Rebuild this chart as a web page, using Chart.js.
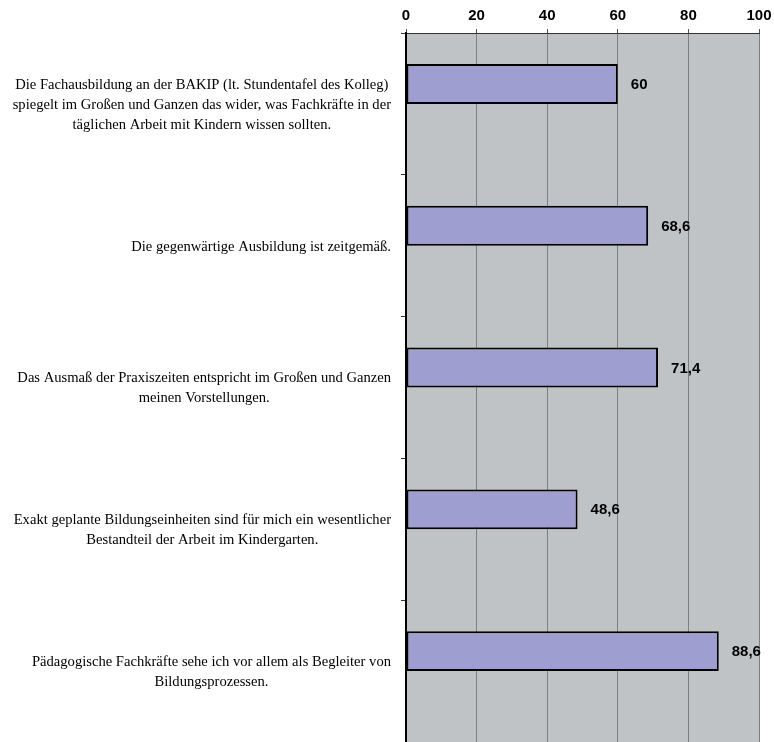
<!DOCTYPE html>
<html lang="de">
<head>
<meta charset="utf-8">
<title>Ausbildung</title>
<script src="https://cdn.jsdelivr.net/npm/chart.js@4.4.1/dist/chart.umd.min.js"></script>
<style>
    body { margin: 0; background: #fff; }
    canvas { display: block; }
</style>
</head>
<body>
<canvas id="myChart" width="774" height="742"></canvas>
<script>
// statements, one array of lines per bar
const statements = [
    ["Die Fachausbildung an der BAKIP (lt. Stundentafel des Kolleg)",
     "spiegelt im Großen und Ganzen das wider, was Fachkräfte in der",
     "täglichen Arbeit mit Kindern wissen sollten."],
    ["Die gegenwärtige Ausbildung ist zeitgemäß."],
    ["Das Ausmaß der Praxiszeiten entspricht im Großen und Ganzen",
     "meinen Vorstellungen."],
    ["Exakt geplante Bildungseinheiten sind für mich ein wesentlicher",
     "Bestandteil der Arbeit im Kindergarten."],
    ["Pädagogische Fachkräfte sehe ich vor allem als Begleiter von",
     "Bildungsprozessen."]
];
const agreement = [60, 68.6, 71.4, 48.6, 88.6];
// second slot in each group stays empty
const emptySlot = [null, null, null, null, null];
const xTicks = [0, 20, 40, 60, 80, 100];

const ctx = document.getElementById("myChart").getContext("2d");

const plotBackground = {
    id: "plotBackground",
    beforeDraw(chart) {
        const a = chart.chartArea;
        const c = chart.ctx;
        c.save();
        c.fillStyle = "#c0c3c6";
        c.fillRect(a.left, a.top, a.right - a.left, a.bottom - a.top);
        c.restore();
    }
};

const valueLabels = {
    id: "valueLabels",
    afterDatasetsDraw(chart) {
        const c = chart.ctx;
        const meta = chart.getDatasetMeta(0);
        c.save();
        c.font = "bold 15px 'Liberation Sans', Arial, sans-serif";
        c.fillStyle = "#000";
        c.textAlign = "left";
        c.textBaseline = "middle";
        meta.data.forEach(function (bar, i) {
            c.fillText(String(agreement[i]).replace(".", ","), bar.x + 13, bar.y + 1);
        });
        c.restore();
    }
};

// multi-line labels: lines centred, block right-aligned to the axis
const statementLabels = {
    id: "statementLabels",
    afterDraw(chart) {
        const c = chart.ctx;
        const yScale = chart.scales.y;
        const right = yScale.right - 15;
        const lineHeight = 20;
        c.save();
        c.font = "14.6px 'Liberation Serif', 'Times New Roman', serif";
        c.fillStyle = "#000";
        c.textAlign = "center";
        c.textBaseline = "middle";
        statements.forEach(function (lines, i) {
            const yMid = yScale.getPixelForValue(i) + 1;
            const w = Math.max.apply(null, lines.map(function (l) { return c.measureText(l).width; }));
            const x = right - w / 2;
            const y0 = yMid - (lines.length - 1) * lineHeight / 2;
            lines.forEach(function (line, j) {
                c.fillText(line, x, y0 + j * lineHeight);
            });
        });
        c.restore();
    }
};

new Chart(ctx, {
    type: "bar",
    data: {
        labels: statements.map(function (s) { return s.join(" "); }),
        datasets: [
            {
                label: "Zustimmung",
                data: agreement,
                backgroundColor: "#9e9fd0",
                borderColor: "#000",
                borderWidth: 2,
                borderSkipped: false
            },
            {
                label: "",
                data: emptySlot
            }
        ]
    },
    options: {
        indexAxis: "y",
        responsive: false,
        animation: false,
        categoryPercentage: 0.563,
        barPercentage: 1,
        layout: { padding: { left: 0, right: 15, top: 0, bottom: 0 } },
        plugins: {
            legend: { display: false },
            tooltip: { enabled: false }
        },
        scales: {
            x: {
                position: "top",
                min: 0,
                max: 100,
                afterBuildTicks: function (scale) {
                    scale.ticks = xTicks.map(function (v) { return { value: v }; });
                },
                afterFit: function (scale) {
                    scale.height = 33;
                    scale.paddingLeft = 0;
                    scale.paddingRight = 0;
                },
                grid: {
                    color: "#7f7f7f",
                    lineWidth: 1,
                    tickLength: 4,
                    tickColor: "#555"
                },
                border: { color: "#333", width: 1 },
                ticks: {
                    color: "#000",
                    padding: 4,
                    font: { family: "'Liberation Sans', Arial, sans-serif", size: 15, weight: "bold" }
                }
            },
            y: {
                afterFit: function (scale) { scale.width = 406; },
                grid: {
                    offset: true,
                    drawOnChartArea: false,
                    tickLength: 5,
                    tickColor: "#333"
                },
                border: { color: "#000", width: 2 },
                ticks: { display: false }
            }
        }
    },
    plugins: [plotBackground, valueLabels, statementLabels]
});
</script>
</body>
</html>
